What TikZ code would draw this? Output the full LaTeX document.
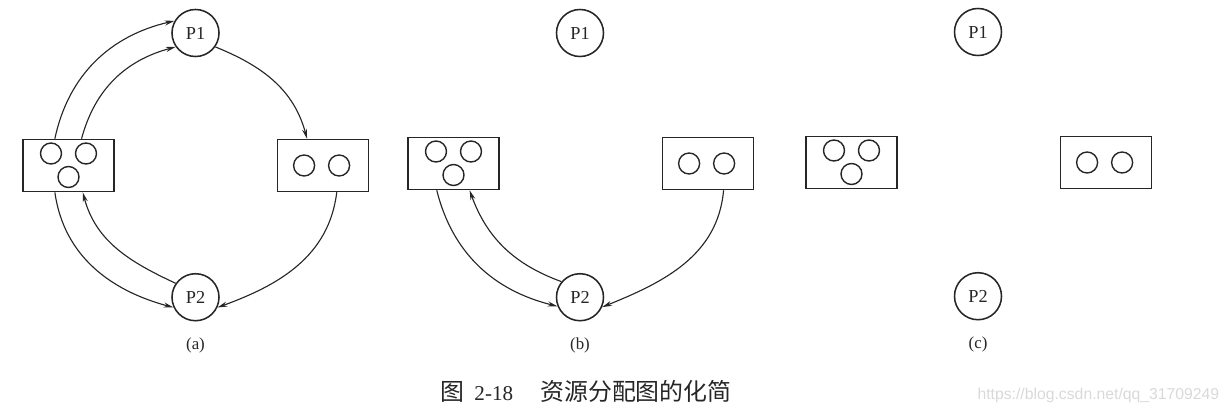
\documentclass[tikz,border=0pt]{standalone}
\usepackage{fontspec}
\setmainfont{Liberation Serif}
\newfontfamily\cjk{Noto Sans CJK SC}
\newfontfamily\wmfont{Liberation Sans}
\usetikzlibrary{positioning,arrows.meta}

\begin{document}
\begin{tikzpicture}[x=0.025cm,y=0.025cm,->,>={Stealth[length=7pt,width=3.6pt]},
  color=black!85,line width=0.8pt,
  process/.style={circle,draw,line width=1.1pt,minimum size=1.175cm,inner sep=0pt,font=\fontsize{13}{15}\selectfont},
  resource/.style={rectangle,draw,line width=1.1pt,minimum width=2.275cm,minimum height=1.3cm,inner sep=0pt},
  instance/.style={circle,draw,line width=1pt,minimum size=0.525cm,inner sep=0pt},
  sublabel/.style={inner sep=0pt,font=\fontsize{12}{14}\selectfont}]
\useasboundingbox (0,0) rectangle (1230,-414);


% (a)
\node[process] (p1a) at (195.5,-33) {P1};
\node[process,below = 5.39cm of p1a] (p2a) {P2};
\node[resource] (r1a) at (68.5,-165.5) {};
\node[resource,right = 4.05cm of r1a] (r2a) {};
\node[instance] (r1a1) at ([shift={(-17.5,12)}]r1a.center) {};
\node[instance] (r1a2) at ([shift={(17.5,12)}]r1a.center) {};
\node[instance] (r1a3) at ([shift={(0,-11.5)}]r1a.center) {};
\node[instance] (r2a1) at ([shift={(-19,0)}]r2a.center) {};
\node[instance] (r2a2) at ([shift={(16,0)}]r2a.center) {};
\path (r1a.117) edge[out=78,in=193] (p1a.150);
\path (r1a.64)  edge[out=75,in=195] (p1a.215);
\path (p1a.325) edge[out=-22,in=105] (r2a.121);
\path (r2a.297) edge[out=263,in=20] (p2a.335);
\path (r1a.243) edge[out=278,in=165] (p2a.205);
\path (p2a.145) edge[out=155,in=285] (r1a.298);
\node[sublabel,below = 0.4cm of p2a] (la) {(a)};


% (b)
\node[process] (p1b) at (580,-33) {P1};
\node[process,below = 5.39cm of p1b] (p2b) {P2};
\node[resource] (r1b) at (453.5,-163.5) {};
\node[resource,right = 4.05cm of r1b] (r2b) {};
\node[instance] (r1b1) at ([shift={(-17.5,12)}]r1b.center) {};
\node[instance] (r1b2) at ([shift={(17.5,12)}]r1b.center) {};
\node[instance] (r1b3) at ([shift={(0,-11.5)}]r1b.center) {};
\node[instance] (r2b1) at ([shift={(-19,0)}]r2b.center) {};
\node[instance] (r2b2) at ([shift={(16,0)}]r2b.center) {};
\path (r1b.238) edge[out=284,in=166] (p2b.202);
\path (p2b.140) edge[out=160,in=290] (r1b.301);
\path (r2b.300) edge[out=265,in=22] (p2b.336);
\node[sublabel,below = 0.4cm of p2b] (lb) {(b)};


% (c)
\node[process] (p1c) at (978,-32) {P1};
\node[process,below = 5.39cm of p1c] (p2c) {P2};
\node[resource] (r1c) at (851.5,-162.5) {};
\node[resource,right = 4.05cm of r1c] (r2c) {};
\node[instance] (r1c1) at ([shift={(-17.5,12)}]r1c.center) {};
\node[instance] (r1c2) at ([shift={(17.5,12)}]r1c.center) {};
\node[instance] (r1c3) at ([shift={(0,-11.5)}]r1c.center) {};
\node[instance] (r2c1) at ([shift={(-19,0)}]r2c.center) {};
\node[instance] (r2c2) at ([shift={(16,0)}]r2c.center) {};
\node[sublabel,below = 0.4cm of p2c] (lc) {(c)};


\node[anchor=west,inner sep=0pt] (cap) at (440,-391)
  {{\cjk\fontsize{17}{17}\selectfont 图}\hspace{0.25cm}{\fontsize{15}{15}\selectfont 2-18}\hspace{0.68cm}{\cjk\fontsize{17}{17}\selectfont 资源分配图的化简}};
\node[anchor=west,inner sep=0pt,text=black!15,font=\wmfont\fontsize{11.2}{12}\selectfont] (wm) at (977,-395)
  {https://blog.csdn.net/qq\_31709249};

\end{tikzpicture}
\end{document}
